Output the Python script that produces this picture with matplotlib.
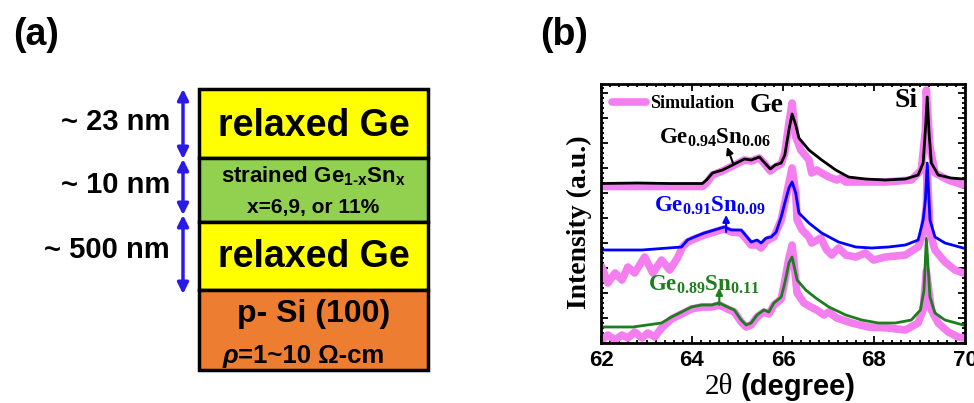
import matplotlib
matplotlib.use("Agg")
import matplotlib.pyplot as plt
from matplotlib.patches import Rectangle
from matplotlib.ticker import MultipleLocator, NullFormatter

plt.rcParams['mathtext.fontset'] = 'custom'
plt.rcParams['mathtext.rm'] = 'Liberation Sans:bold'
plt.rcParams['mathtext.it'] = 'Liberation Sans:bold'
plt.rcParams['mathtext.bf'] = 'Liberation Serif:bold'

# ---------------- data (panel b) ----------------
x_exp06 = [62.00, 62.8, 63.5, 64.23, 64.32, 64.45, 64.67, 64.89, 65.15, 65.30, 65.48, 65.58, 65.72,
           65.83, 65.96, 66.04, 66.13, 66.20, 66.28, 66.35, 66.57, 66.85, 67.16, 67.44, 67.81,
           68.25, 68.69, 68.97, 69.08, 69.13, 69.17, 69.21, 69.26, 69.41, 69.69, 69.96]
y_exp06 = [159.5, 160, 159.5, 159.5, 163, 170, 173, 178, 184, 183, 186, 181, 174,
           178, 180, 188, 213, 229, 218, 205, 193, 183, 173, 166, 164,
           163, 164, 168, 180, 213, 246, 210, 180, 168, 165, 164]

x_sim06 = [62.00, 64.23, 64.32, 64.45, 64.67, 64.89, 65.15, 65.30, 65.48, 65.58, 65.72, 65.83, 65.96,
           66.04, 66.13, 66.20, 66.28, 66.39, 66.57, 66.63, 66.74, 66.85, 67.01, 67.18, 67.27,
           67.38, 67.73, 68.25, 68.82, 69.04, 69.13, 69.15, 69.23, 69.34, 69.63, 69.96]
y_sim06 = [156.5, 156.5, 160, 168, 172, 177, 183, 182, 185, 180, 172, 176, 179,
           190, 220, 240, 206, 193, 183, 170, 173, 170, 166, 163, 165,
           161, 161, 161, 163, 173, 213, 253, 196, 170, 163, 158]

x_exp09 = [62.00, 62.9, 63.77, 63.90, 64.05, 64.27, 64.49, 64.71, 64.86, 65.08, 65.21, 65.30, 65.43,
           65.52, 65.63, 65.74, 65.85, 65.96, 66.04, 66.13, 66.20, 66.28, 66.35, 66.57, 66.85,
           67.22, 67.60, 67.95, 68.32, 68.69, 68.97, 69.08, 69.13, 69.17, 69.23, 69.34, 69.56, 69.96]
y_exp09 = [93, 93, 96, 103, 106, 110, 113, 116, 113, 113, 106, 101, 103,
           100, 105, 106, 111, 126, 140, 155, 161, 150, 130, 120, 110,
           101, 96, 95, 96, 98, 103, 123, 143, 180, 123, 106, 100, 95]

x_sim09 = [62.02, 62.15, 62.31, 62.46, 62.59, 62.74, 62.96, 63.14, 63.33, 63.51, 63.68, 63.79, 63.90,
           64.05, 64.27, 64.49, 64.71, 64.86, 65.08, 65.21, 65.30, 65.43, 65.52, 65.63, 65.80,
           65.96, 66.04, 66.13, 66.20, 66.28, 66.31, 66.42, 66.57, 66.63, 66.83, 66.96, 67.07,
           67.22, 67.38, 67.60, 67.81, 67.99, 68.25, 68.69, 68.97, 69.08, 69.15, 69.17, 69.23,
           69.34, 69.56, 69.78, 69.96]
y_sim09 = [76, 60, 70, 63, 76, 70, 86, 70, 83, 73, 85, 96, 101,
           104, 108, 111, 114, 111, 110, 103, 98, 98, 95, 102, 106,
           123, 140, 160, 175, 150, 123, 113, 106, 100, 105, 93, 88,
           95, 88, 86, 90, 83, 86, 88, 96, 110, 136, 175, 110,
           93, 81, 73, 70]

x_exp11 = [62.00, 62.7, 63.33, 63.55, 63.77, 63.99, 64.21, 64.43, 64.60, 64.78, 64.93, 65.08, 65.19,
           65.30, 65.43, 65.58, 65.69, 65.80, 65.96, 66.04, 66.13, 66.20, 66.31, 66.50, 66.72,
           67.01, 67.38, 67.73, 68.10, 68.47, 68.82, 69.02, 69.10, 69.15, 69.23, 69.34, 69.56, 69.96]
y_exp11 = [16, 16, 20, 26, 31, 36, 38, 38, 40, 36, 33, 23, 18,
           20, 28, 33, 31, 40, 46, 60, 80, 86, 63, 53, 45,
           36, 28, 23, 20, 20, 23, 33, 53, 105, 46, 30, 23, 18]

x_sim11 = [62.02, 62.15, 62.31, 62.46, 62.59, 62.74, 62.90, 63.03, 63.18, 63.33, 63.55, 63.77, 63.99,
           64.21, 64.43, 64.60, 64.78, 64.93, 65.08, 65.19, 65.30, 65.43, 65.58, 65.69, 65.80,
           65.96, 66.04, 66.13, 66.20, 66.31, 66.46, 66.61, 66.74, 66.90, 67.01, 67.18, 67.51,
           67.88, 68.32, 68.69, 68.97, 69.08, 69.15, 69.26, 69.41, 69.63, 69.85, 69.96]
y_sim11 = [3, 8, 3, 8, 5, 11, 5, 10, 6, 15, 24, 29, 34,
           36, 36, 38, 34, 31, 21, 16, 18, 26, 31, 29, 38,
           44, 62, 85, 98, 50, 40, 36, 33, 28, 31, 25, 20,
           16, 15, 13, 20, 33, 72, 33, 20, 11, 6, 5]

sample_labels = [r"$\mathbf{Ge_{0.94}Sn_{0.06}}$", r"$\mathbf{Ge_{0.91}Sn_{0.09}}$", r"$\mathbf{Ge_{0.89}Sn_{0.11}}$"]
x_ticks = [62, 64, 66, 68, 70]

# ---------------- data (panel a) ----------------
layer_names = ["relaxed Ge", "strained", "relaxed Ge", "p- Si (100)"]
thickness_labels = ["~ 23 nm", "~ 10 nm", "~ 500 nm"]

PINK = '#F47DF0'
BLUE = '#0000FF'
GREEN = '#1E7D1E'
BLACK = '#000000'

fig = plt.figure(figsize=(9.74, 4.03), dpi=100)

# ---------- panel (a) overlay in pixel coordinates ----------
ax0 = fig.add_axes([0, 0, 1, 1])
ax0.set_xlim(0, 974)
ax0.set_ylim(403, 0)
ax0.axis('off')

layer_edges = [89, 158, 222, 290, 370]
layer_colors = ['#FFFF00', '#92D050', '#FFFF00', '#ED7D31']
bx0, bx1 = 199, 428
for i in range(4):
    ax0.add_patch(Rectangle((bx0, layer_edges[i]), bx1 - bx0, layer_edges[i + 1] - layer_edges[i],
                            facecolor=layer_colors[i], edgecolor='black', lw=2.5))
cx = (bx0 + bx1) / 2
sans = 'Liberation Sans'
ax0.text(cx, 126, layer_names[0], ha='center', va='center', fontsize=27, fontweight='bold', family=sans)
ax0.text(cx, 176, "strained Ge$_{\\mathrm{1‐x}}$Sn$_{\\mathrm{x}}$", ha='center', va='center',
         fontsize=16, fontweight='bold', family=sans)
ax0.text(cx, 208, "x=6,9, or 11%", ha='center', va='center', fontsize=15, fontweight='bold', family=sans)
ax0.text(cx, 257, layer_names[2], ha='center', va='center', fontsize=27, fontweight='bold', family=sans)
ax0.text(cx, 314, layer_names[3], ha='center', va='center', fontsize=23, fontweight='bold', family=sans)
ax0.text(238, 356, "ρ", ha='right', va='center', fontsize=18.5, fontweight='bold', style='italic', family=sans)
ax0.text(238, 356, "=1~10 Ω-cm", ha='left', va='center', fontsize=18.5, fontweight='bold', family=sans)

label_y = [122, 185, 250]
for lab, yy in zip(thickness_labels, label_y):
    ax0.text(170, yy, lab, ha='right', va='center', fontsize=21, fontweight='bold', family=sans)

arrow_spans = [(89, 159), (159, 215), (215, 294)]
for (a, b) in arrow_spans:
    ax0.annotate('', xy=(183, a), xytext=(183, b),
                 arrowprops=dict(arrowstyle='<|-|>', color='#2A1AE8', lw=2.5,
                                 mutation_scale=16, shrinkA=0, shrinkB=0))

fig.text(13 / 974, 1 - 35 / 403, "(a)", fontsize=27, fontweight='bold', family=sans, va='center', ha='left')
fig.text(540 / 974, 1 - 35 / 403, "(b)", fontsize=27, fontweight='bold', family=sans, va='center', ha='left')

# ---------- panel (b) ----------
ax = fig.add_axes([601 / 974, 1 - 343 / 403, 364 / 974, 259 / 403])
kw_sim = dict(color=PINK, lw=5.5, solid_capstyle='round', solid_joinstyle='round')
ax.plot(x_sim11, y_sim11, **kw_sim)
ax.plot(x_exp11, y_exp11, color=GREEN, lw=2)
ax.plot(x_sim09, y_sim09, **kw_sim)
ax.plot(x_exp09, y_exp09, color=BLUE, lw=2)
ax.plot(x_sim06, y_sim06, label='Simulation', **kw_sim)
ax.plot(x_exp06, y_exp06, color=BLACK, lw=2)

ax.set_xlim(62, 70)
ax.set_ylim(0, 259)
ax.set_xticks(x_ticks)
ax.xaxis.set_minor_locator(MultipleLocator(0.2))
ax.yaxis.set_major_locator(MultipleLocator(25))
ax.yaxis.set_minor_locator(MultipleLocator(5))
ax.yaxis.set_major_formatter(NullFormatter())
ax.tick_params(which='both', direction='in', top=True, right=True, width=1.3)
ax.tick_params(which='major', length=5)
ax.tick_params(which='minor', length=2.5)
ax.tick_params(axis='x', which='major', pad=5, labelsize=16)
for lab in ax.get_xticklabels():
    lab.set_fontweight('bold')
    lab.set_family(sans)
for s in ax.spines.values():
    s.set_linewidth(2)

ax.set_ylabel("Intensity (a.u.)", fontsize=20, fontweight='bold', family='Liberation Serif')
ax.yaxis.set_label_coords(-0.025, 0.467)

fig.text(733 / 974, 1 - 387 / 403, "2θ", fontsize=21, family='Liberation Serif',
         ha='right', va='center')
fig.text(741 / 974, 1 - 387 / 403, "(degree)", fontsize=21, fontweight='bold', family=sans,
         ha='left', va='center')

leg = ax.legend(loc='upper left', bbox_to_anchor=(-0.015, 1.02), frameon=False, handlelength=1.9,
                handletextpad=0.2, prop={'family': 'Liberation Serif', 'weight': 'bold', 'size': 13})

ax.text(65.63, 238, "Ge", fontsize=20, fontweight='bold', family='Liberation Serif', ha='center', va='center')
ax.text(68.7, 243, "Si", fontsize=20, fontweight='bold', family='Liberation Serif', ha='center', va='center')

label_pos = [(64.5, 206), (64.4, 138), (64.26, 59)]
label_colors = [BLACK, BLUE, GREEN]
arrow_tail = [(64.9, 180), (64.75, 111), (64.6, 38)]
arrow_head = [(64.77, 196), (64.75, 128), (64.6, 55)]
for lab, (lx, ly), c, t, h in zip(sample_labels, label_pos, label_colors, arrow_tail, arrow_head):
    ax.text(lx, ly, lab, color=c, fontsize=16.5, ha='center', va='center')
    ax.annotate('', xy=h, xytext=t,
                arrowprops=dict(arrowstyle='-|>', color=c, lw=1.5, mutation_scale=10,
                                shrinkA=0, shrinkB=0))

fig.savefig('out.png', dpi=100)
